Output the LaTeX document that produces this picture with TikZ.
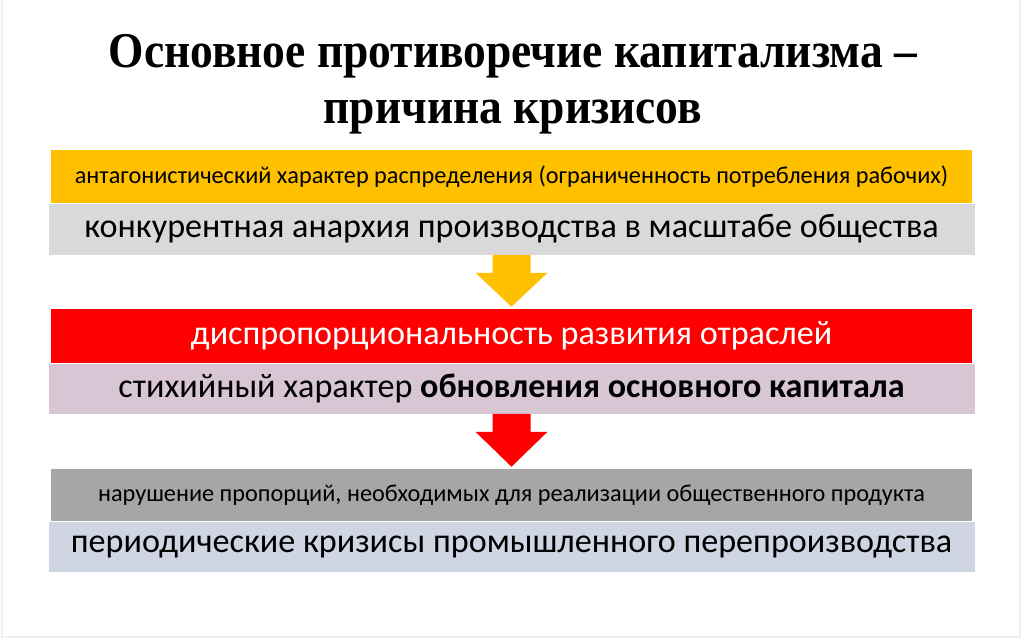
\documentclass[tikz,border=0pt]{standalone}
\usepackage{fontspec}
\setmainfont{Liberation Serif}
\newfontfamily\titlefont{Liberation Serif}[FakeStretch=0.91]
\newfontfamily\calibri{Carlito}
\usetikzlibrary{positioning,calc}
\definecolor{baryellow}{HTML}{FFC000}
\definecolor{bargrey}{HTML}{D9D9D9}
\definecolor{barred}{HTML}{FF0000}
\definecolor{barpink}{HTML}{D8C6D4}
\definecolor{bardark}{HTML}{A6A6A6}
\definecolor{barblue}{HTML}{CFD5E3}
\tikzset{
	narrowbar/.style={rectangle,inner sep=0pt,minimum width=921*0.75pt,minimum height=#1*0.75pt},
	widebar/.style={rectangle,inner sep=0pt,minimum width=926*0.75pt,minimum height=#1*0.75pt},
	smalltext/.style={font=\calibri\fontsize{18.2}{21}\selectfont},
	bigtext/.style={font=\calibri\fontsize{25.6}{30}\selectfont}
}
\begin{document}
\begin{tikzpicture}[x=0.75pt,y=-0.75pt]
\useasboundingbox (0,0) rectangle (1024,639);
\draw[black!6,line width=1.2pt] (2,0) -- (2,637) -- (1020,637) -- (1020,0);
\node[anchor=north,inner sep=0pt,align=center,font=\titlefont\bfseries\fontsize{37.5}{42}\selectfont] (title) at (513,34)
	{Основное противоречие капитализма –\\причина кризисов};
% first pair
\node[narrowbar=53,fill=baryellow,smalltext] (distribution) at (511.5,176.5)
	{антагонистический характер распределения (ограниченность потребления рабочих)};
\node[widebar=51,fill=bargrey,bigtext,below=0pt of distribution] (anarchy)
	{конкурентная анархия производства в масштабе общества};
% second pair
\node[narrowbar=54,fill=barred,bigtext,text=white] (dispro) at (511.5,336)
	{диспропорциональность развития отраслей};
\node[widebar=50,fill=barpink,bigtext,below=0pt of dispro] (renewal)
	{стихийный характер \textbf{обновления основного капитала}};
% third pair
\node[narrowbar=52,fill=bardark,smalltext] (violation) at (511.5,495)
	{нарушение пропорций, необходимых для реализации общественного продукта};
\node[widebar=50,fill=barblue,bigtext,below=0pt of violation] (crises)
	{периодические кризисы промышленного перепроизводства};
% arrows between the pairs
\foreach \from/\to/\col in {anarchy/dispro/baryellow,renewal/violation/barred}{
	\fill[\col] ($(\from.south)+(-19,0)$) -- ($(\from.south)+(19,0)$) -- ($(\from.south)+(19,18)$)
		-- ($(\from.south)+(36,18)$) -- ($(\to.north)+(0,-2)$) -- ($(\from.south)+(-36,18)$)
		-- ($(\from.south)+(-19,18)$) -- cycle;}
\end{tikzpicture}
\end{document}
